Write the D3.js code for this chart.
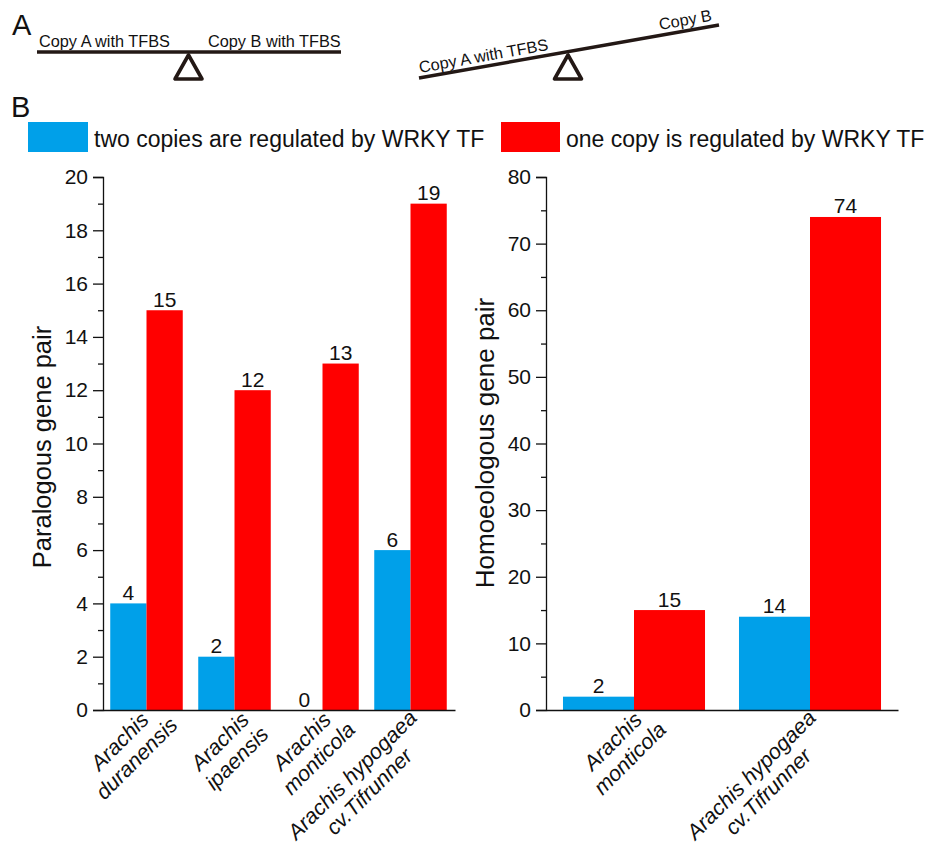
<!DOCTYPE html>
<html>
<head>
<meta charset="utf-8">
<script src="https://cdn.jsdelivr.net/npm/d3@7"></script>
<style>
html,body{margin:0;padding:0;background:#fff;}
text{font-family:"Liberation Sans",Arial,sans-serif;fill:#111;}
</style>
</head>
<body>
<div id="chart-area"></div>
<script>
// values
var paraSpecies=[["Arachis","duranensis"],["Arachis","ipaensis"],["Arachis","monticola"],["Arachis hypogaea","cv.Tifrunner"]];
var paraTwoCopies=[4,2,0,6];
var paraOneCopy=[15,12,13,19];
var homoSpecies=[["Arachis","monticola"],["Arachis hypogaea","cv.Tifrunner"]];
var homoTwoCopies=[2,14];
var homoOneCopy=[15,74];
var paraMajorTicks=[0,2,4,6,8,10,12,14,16,18,20];
var paraMinorTicks=[1,3,5,7,9,11,13,15,17,19];
var homoMajorTicks=[0,10,20,30,40,50,60,70,80];
var homoMinorTicks=[5,15,25,35,45,55,65,75];
var legendLabels=["two copies are regulated by WRKY TF","one copy is regulated by WRKY TF"];

var blue="#00A0E9";
var red="#FF0000";
var dark="#231815";

var svg=d3.select("#chart-area").append("svg")
	.attr("width",927)
	.attr("height",843)
	.style("display","block");

// panel letters
svg.append("text").attr("x",12).attr("y",35).attr("font-size","29px").text("A");
svg.append("text").attr("x",11).attr("y",117).attr("font-size","29px").text("B");

// seesaws of panel A
function seesaw(x1,y1,x2,y2,px){
	svg.append("line")
		.attr("x1",x1).attr("y1",y1).attr("x2",x2).attr("y2",y2)
		.attr("stroke",dark).attr("stroke-width",3.4);
	svg.append("path")
		.attr("d","M"+px+",55L"+(px-13.5)+",79L"+(px+13.5)+",79Z")
		.attr("fill","none").attr("stroke",dark).attr("stroke-width",3.6)
		.attr("stroke-linejoin","round");
}
seesaw(37,52,341,52,188.5);
seesaw(419,78,719,25,568);

function smallText(x,y,angle,label){
	svg.append("text")
		.attr("transform","translate("+x+","+y+") rotate("+angle+")")
		.attr("font-size","16.3px")
		.text(label);
}
smallText(39,47,0,"Copy A with TFBS");
smallText(208,47,0,"Copy B with TFBS");
smallText(420,73,-10.2,"Copy A with TFBS");
smallText(660,30,-10.2,"Copy B");

// legend
svg.append("rect").attr("x",28).attr("y",122).attr("width",60).attr("height",30).attr("fill",blue);
svg.append("rect").attr("x",501).attr("y",122).attr("width",59).attr("height",30).attr("fill",red);
svg.append("text").attr("x",94).attr("y",147).attr("font-size","23px").text(legendLabels[0]);
svg.append("text").attr("x",566).attr("y",147).attr("font-size","23px").text(legendLabels[1]);

function barChart(opts){
	var names=opts.species.map(function(d){return d.join(" ");});
	var x=d3.scaleBand()
		.domain(names)
		.range([opts.left,opts.left+352])
		.paddingInner(opts.padding)
		.paddingOuter(opts.padding/2);
	var y=d3.scaleLinear()
		.domain([0,opts.major[opts.major.length-1]])
		.range([710,177]);
	var sub=d3.scaleBand()
		.domain(["two","one"])
		.range([0,x.bandwidth()]);

	var g=svg.append("g");

	opts.species.forEach(function(s,i){
		var group=g.append("g").attr("transform","translate("+(x(names[i])+opts.barShift)+",0)");
		[["two",opts.two[i],blue],["one",opts.one[i],red]].forEach(function(b){
			group.append("rect")
				.attr("x",sub(b[0]))
				.attr("y",y(b[1]))
				.attr("width",sub.bandwidth())
				.attr("height",y(0)-y(b[1]))
				.attr("fill",b[2]);
			group.append("text")
				.attr("x",sub(b[0])+sub.bandwidth()/2)
				.attr("y",y(b[1])-3.5)
				.attr("text-anchor","middle")
				.attr("font-size","21px")
				.text(b[1]);
		});
	});

	// axes
	var leftAxis=d3.axisLeft(y)
		.tickValues(opts.major)
		.tickSize(10)
		.tickPadding(5)
		.tickFormat(d3.format("d"));
	var minorAxis=d3.axisLeft(y)
		.tickValues(opts.minor)
		.tickSize(5)
		.tickFormat("");
	var bottomAxis=d3.axisBottom(x)
		.tickSize(0)
		.tickFormat("");

	var minor=g.append("g").attr("transform","translate("+opts.left+",0)").call(minorAxis);
	minor.select(".domain").remove();
	var yAxis=g.append("g").attr("transform","translate("+opts.left+",0)").call(leftAxis);
	yAxis.selectAll("text").attr("font-size","21px").attr("font-family",null);
	var xAxis=g.append("g").attr("transform","translate(0,710)").call(bottomAxis);
	g.selectAll(".domain").attr("stroke","#111").attr("stroke-width",1.3);
	g.selectAll(".tick line").attr("stroke","#111").attr("stroke-width",1.3);

	// slanted two line species labels, longer labels sit further down and left
	opts.species.forEach(function(s,i){
		var label=g.append("text")
			.attr("font-size","21.5px")
			.attr("font-style","italic")
			.attr("text-anchor","middle");
		s.forEach(function(line,j){
			label.append("tspan")
				.attr("x",0)
				.attr("y",j*24)
				.text(line);
		});
		var w=d3.max(label.selectAll("tspan").nodes(),function(n){return n.getComputedTextLength();});
		var k=w/2*Math.SQRT1_2-40;
		var cx=x(names[i])+x.bandwidth()/2-26-1.33*k;
		var cy=746.5+1.6*Math.max(k,0);
		label.attr("transform","translate("+cx+","+cy+") rotate(-45)");
	});

	g.append("text")
		.attr("transform","translate("+opts.titleX+","+opts.titleY+") rotate(-90)")
		.attr("text-anchor","middle")
		.attr("font-size",opts.titleSize+"px")
		.text(opts.title);
}

barChart({species:paraSpecies,two:paraTwoCopies,one:paraOneCopy,major:paraMajorTicks,minor:paraMinorTicks,
	left:103,barShift:-0.5,padding:0.176,title:"Paralogous gene pair",titleSize:25.5,titleX:51,titleY:447});
barChart({species:homoSpecies,two:homoTwoCopies,one:homoOneCopy,major:homoMajorTicks,minor:homoMinorTicks,
	left:546,barShift:0,padding:0.193,title:"Homoeologous gene pair",titleSize:26,titleX:494,titleY:443});
</script>
</body>
</html>
